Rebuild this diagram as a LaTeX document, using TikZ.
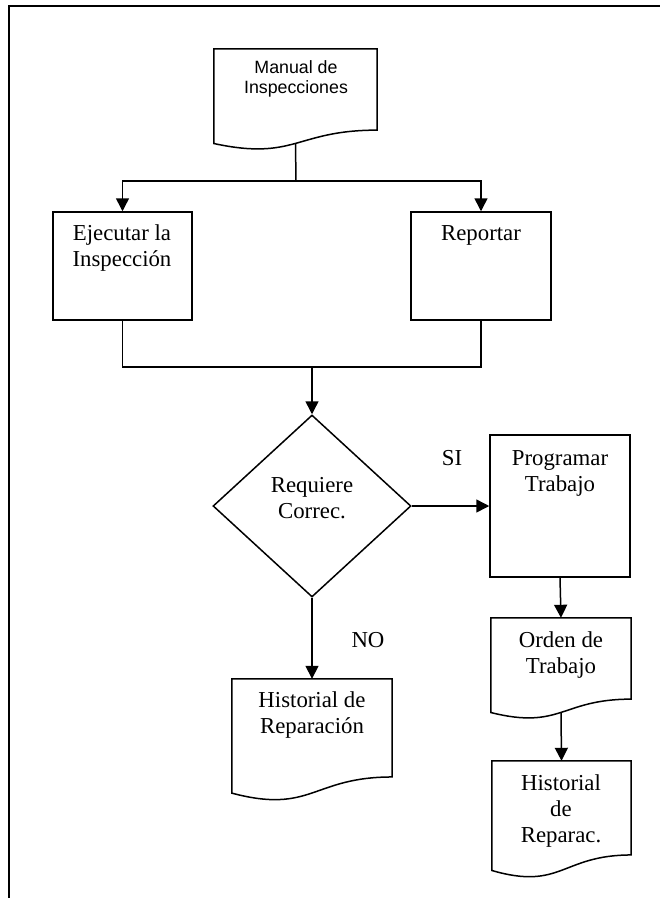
\documentclass[tikz,border=0pt]{standalone}
\usepackage{fontspec}
\setmainfont{Liberation Serif}
\newfontfamily\arialf{Liberation Sans}
\usetikzlibrary{arrows.meta,shapes.geometric,calc}
\newcommand\docoutline[1]{%
  \draw[line] (#1.north west) -- (#1.north east)
    -- ($(#1.north east)!0.802!(#1.south east)$)
    .. controls ($(#1.north)!0.802!(#1.south)$) and ($(#1.north)!1.1075!(#1.south)$)
    .. ($(#1.north west)!0.934!(#1.south west)$) -- cycle;
  \coordinate (#1-b) at ($(#1.north)!0.933!(#1.south)$);}
\begin{document}
\begin{tikzpicture}[x=1pt,y=-1pt,
  line/.style={line width=1.5pt, line join=miter},
  arr/.style={line, -{Triangle[length=13pt,width=13pt]}},
  rbox/.style 2 args={draw, line, minimum width=#1, minimum height=#2, inner sep=0pt},
  dbox/.style 2 args={minimum width=#1, minimum height=#2, inner sep=0pt},
  txt/.style={font=\fontsize{22.8}{26}\selectfont, align=center, inner sep=0pt},
  stxt/.style={font=\arialf\fontsize{17.8}{20.5}\selectfont, align=center, inner sep=0pt}]
\useasboundingbox (0,0) rectangle (660,898);
% frame
\draw[line width=1.8pt] (9,898) -- (9,6) -- (660,6);
% shapes
\node[dbox={163pt}{101pt}] (man) at (295.5,99.5) {};
\docoutline{man}
\node[rbox={139pt}{108pt}] (ej) at (122.5,266) {};
\node[rbox={140pt}{108pt}] (rep) at (481,266) {};
\node[draw, line, diamond, minimum width=198pt, minimum height=182pt, inner sep=0pt] (dec) at (312,506) {};
\node[rbox={140pt}{142pt}] (prog) at (560,506) {};
\node[dbox={140pt}{101pt}] (ord) at (561,668.5) {};
\docoutline{ord}
\node[dbox={160pt}{122pt}] (hrA) at (312,740) {};
\docoutline{hrA}
\node[dbox={139pt}{117pt}] (hrB) at (561.5,819.5) {};
\docoutline{hrB}
% texts
\node[stxt] (tman) at (296,79) {Manual de\\Inspecciones};
\node[txt] (tej) at (122,248.5) {Ejecutar la\\Inspección};
\node[txt] (trep) at (481,235) {Reportar};
\node[txt] (tdec) at (312,498) {Requiere\\Correc.};
\node[txt] (tprog) at (560,473) {Programar\\Trabajo};
\node[txt] (tord) at (561,655) {Orden de\\Trabajo};
\node[txt] (thrA) at (312,715) {Historial de\\Reparación};
\node[txt] (thrB) at (561,811) {Historial\\de\\Reparac.};
\node[txt] (si) at (452,458) {SI};
\node[txt] (no) at (368,640) {NO};
% connectors
\coordinate (split) at (296,181);
\coordinate (join) at (312,367);
\draw[line] (man-b) -- (split);
\draw[arr] (split) -| (ej.north);
\draw[arr] (split) -| (rep.north);
\draw[line] (ej.south) |- (join);
\draw[line] (rep.south) |- (join);
\draw[arr] (join) -- (dec.north);
\draw[arr] (dec.east) -- (prog.west |- dec.east);
\draw[arr] (dec.south) -- (hrA.north);
\draw[arr] (prog.south) -- (ord.north);
\draw[arr] (ord-b) -- (hrB.north);
\end{tikzpicture}
\end{document}
